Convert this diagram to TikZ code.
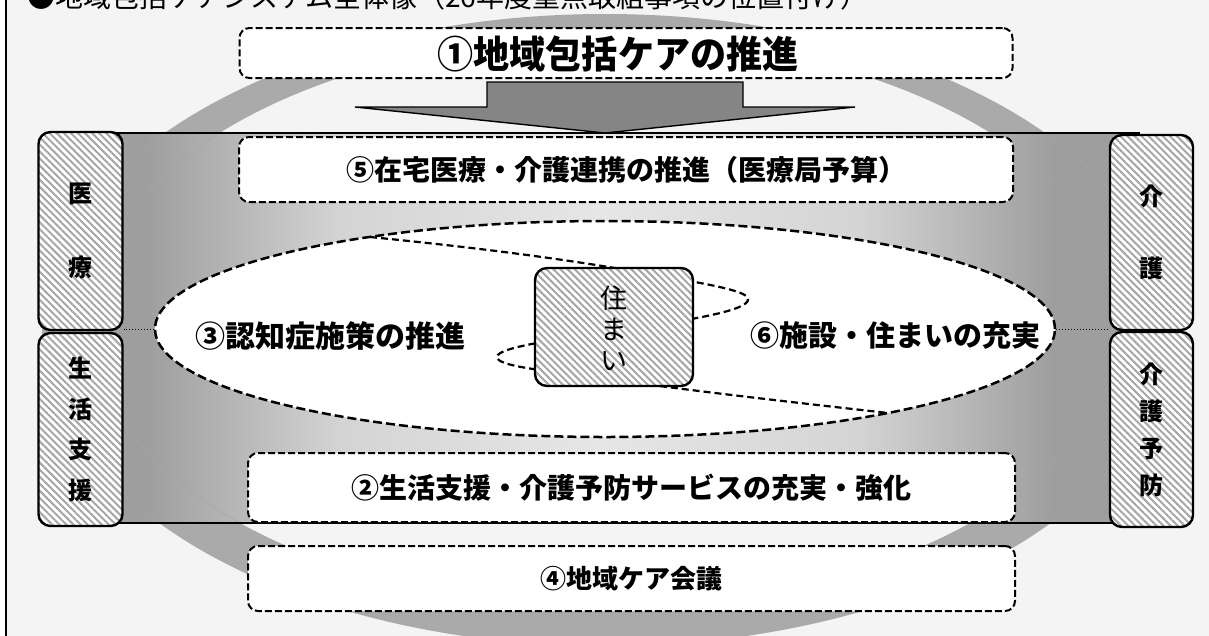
\documentclass[tikz,border=0pt]{standalone}
\usepackage{fontspec}
\newfontfamily\jp{Noto Sans CJK JP}
\usetikzlibrary{patterns.meta,shapes.geometric}
\definecolor{bgc}{HTML}{F4F4F4}
\definecolor{ringc}{HTML}{AAAAAA}
\definecolor{arrowc}{HTML}{858585}
\definecolor{bandD}{HTML}{9E9E9E}
\definecolor{bandM}{HTML}{D4D4D4}
\definecolor{bandL}{HTML}{E6E6E6}
\definecolor{hatchc}{HTML}{A6A6A6}
\pgfdeclarehorizontalshading{bandshade}{100bp}{color(0bp)=(bandD); color(25bp)=(bandD); color(29bp)=(bandD); color(38bp)=(bandM); color(50bp)=(bandL); color(62bp)=(bandM); color(71bp)=(bandD); color(75bp)=(bandD); color(100bp)=(bandD)}
\tikzset{
  dbox/.style={draw, line width=2pt, dash pattern=on 7pt off 3pt, rounded corners=10pt, fill=white, inner sep=0pt, font=\jp\bfseries\fontsize{28}{28}\selectfont},
  hbox/.style={draw, line width=2.4pt, rounded corners=12pt, preaction={fill=white}, pattern={Lines[angle=-45,distance=5pt,line width=2pt]}, pattern color=hatchc, inner sep=0pt, align=center},
  sidetxt/.style={font=\jp\bfseries\fontsize{24}{#1}\selectfont, align=center, inner sep=0pt},
  bigtxt/.style={font=\jp\bfseries\fontsize{29}{29}\selectfont, inner sep=0pt},
  helix/.style={line width=2.2pt, dash pattern=on 7pt off 4pt},
}
\begin{document}
\begin{tikzpicture}[x=1pt,y=-1pt]
\useasboundingbox (0,0) rectangle (1209,635);
\fill[white] (0,0) rectangle (1209,635);
\fill[bgc] (6,-5) rectangle (1215,640);
\draw[line width=1.4pt] (6,-5) -- (6,640);
% title (cut at top, as in the reference)
\node[anchor=base west, inner sep=0pt, font=\jp\fontsize{28}{28}\selectfont] (title) at (27,7) {●地域包括ケアシステム全体像（26年度重点取組事項の位置付け）};
% ring
\fill[ringc, even odd rule] (605,330) ellipse [x radius=563pt, y radius=316pt] (605,322) ellipse [x radius=515pt, y radius=285pt];
% band
\shade[shading=bandshade] (60,133) rectangle (1140,523);
\begin{scope}
\clip (60,133) rectangle (1140,523);
\draw[gray!70, line width=0.4pt] (605,330) ellipse [x radius=563pt, y radius=316pt];
\draw[gray!70, line width=0.4pt] (605,322) ellipse [x radius=515pt, y radius=285pt];
\end{scope}
\draw[line width=1.8pt] (60,133) -- (1140,133);
\draw[line width=1.8pt] (60,523) -- (1140,523);
% box 1
\node[dbox, minimum width=773pt, minimum height=50pt] (b1) at (626,53) {};
\node[font=\jp\bfseries\fontsize{38}{38}\selectfont, inner sep=0pt, xscale=0.95] (t1) at (618,54) {①地域包括ケアの推進};
% arrow
\draw[line width=1.4pt, fill=arrowc, line join=miter] (487,82) -- (743,82) -- (743,107) -- (855,107) -- (605,133) -- (355,107) -- (487,107) -- cycle;
% box 5
\node[dbox, minimum width=774pt, minimum height=65pt] (b5) at (626,169.5) {⑤在宅医療・介護連携の推進（医療局予算）};
% ellipse
\node[ellipse, draw, line width=2.5pt, dash pattern=on 9pt off 4pt, fill=white, minimum width=900pt, minimum height=216pt, inner sep=0pt] (ell) at (605,329) {};
% helix
\draw[helix] (370,237) .. controls (470,247) and (560,258) .. (650,274) .. controls (720,286) and (750,292) .. (748,300) .. controls (746,310) and (700,318) .. (650,326) .. controls (570,338) and (497,346) .. (497,357) .. controls (497,366) and (540,370) .. (600,378) .. controls (700,392) and (800,403) .. (888,413);
% sumai box
\node[hbox, minimum width=158pt, minimum height=118pt] (sumai) at (614,327) {};
\node[font=\jp\fontsize{27}{31}\selectfont, align=center, inner sep=0pt] (sumaitxt) at (614,328) {住\\ま\\い};
% texts in ellipse
\node[bigtxt, font=\jp\bfseries\fontsize{30}{30}\selectfont] (t3) at (330,336) {③認知症施策の推進};
\node[bigtxt] (t6) at (895,336) {⑥施設・住まいの充実};
% box 2 and 4
\node[dbox, minimum width=767pt, minimum height=69pt] (b2) at (631.5,487.5) {②生活支援・介護予防サービスの充実・強化};
\node[dbox, minimum width=767pt, minimum height=65pt, font=\jp\bfseries\fontsize{26}{26}\selectfont] (b4) at (631.5,578.5) {④地域ケア会議};
% side boxes
\node[hbox, minimum width=84pt, minimum height=198pt] (iryo) at (80.5,231) {};
\node[sidetxt=74] at (iryo) {医\\療};
\node[hbox, minimum width=84pt, minimum height=193pt] (seikatsu) at (80.5,429.5) {};
\node[sidetxt=40.5] at (seikatsu) {生\\活\\支\\援};
\node[hbox, minimum width=83pt, minimum height=195pt] (kaigo) at (1151.5,232.5) {};
\node[sidetxt=72] at (kaigo) {介\\護};
\node[hbox, minimum width=83pt, minimum height=195pt] (yobo) at (1151.5,429.5) {};
\node[sidetxt=37] at (yobo) {介\\護\\予\\防};
% dotted connectors
\draw[line width=1pt, dotted] (ell.west) -- (ell.west -| iryo.east);
\draw[line width=1pt, dotted] (ell.east) -- (ell.east -| kaigo.west);
\end{tikzpicture}
\end{document}
